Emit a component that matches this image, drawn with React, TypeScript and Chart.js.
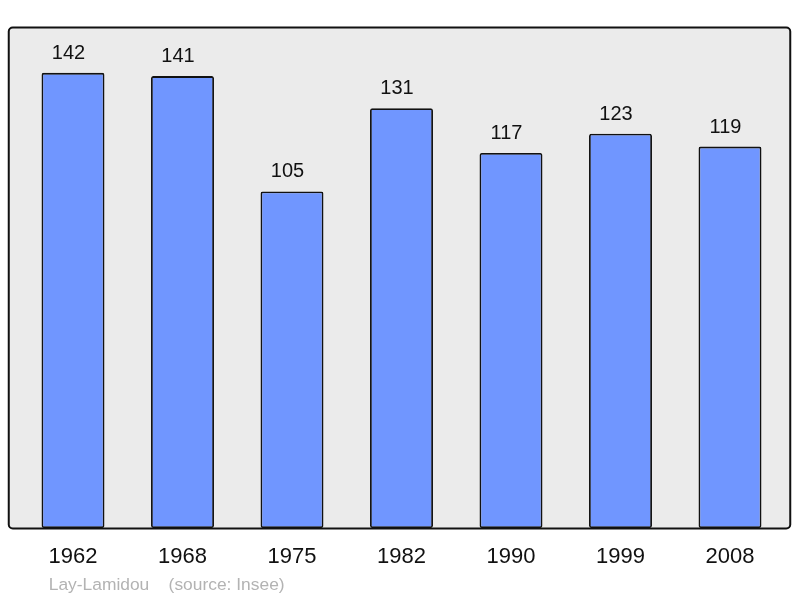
import React, { useEffect, useRef } from "react";
import { Chart, registerables } from "chart.js";

Chart.register(...registerables);

const categories: string[] = ["1962", "1968", "1975", "1982", "1990", "1999", "2008"];
const population: number[] = [142, 141, 105, 131, 117, 123, 119];
const sourceText = "Lay-Lamidou    (source: Insee)";

const FONT = "'Liberation Sans', Arial, sans-serif";

const decorPlugin = {
  id: "decor",
  beforeDraw(chart: any) {
    const { ctx, chartArea } = chart;
    const left = chartArea.left - 9.5;
    const right = chartArea.right + 5.5;
    const top = chartArea.top - 0.5;
    const bottom = chartArea.bottom + 0.5;
    ctx.save();
    ctx.beginPath();
    if (ctx.roundRect) ctx.roundRect(left, top, right - left, bottom - top, 4);
    else ctx.rect(left, top, right - left, bottom - top);
    ctx.fillStyle = "#ebebeb";
    ctx.fill();
    ctx.restore();
  },
  afterDatasetsDraw(chart: any) {
    const { ctx, chartArea } = chart;
    const left = chartArea.left - 9.5;
    const right = chartArea.right + 5.5;
    const top = chartArea.top - 0.5;
    const bottom = chartArea.bottom + 0.5;
    ctx.save();
    ctx.beginPath();
    if (ctx.roundRect) ctx.roundRect(left, top, right - left, bottom - top, 4);
    else ctx.rect(left, top, right - left, bottom - top);
    ctx.lineWidth = 2;
    ctx.strokeStyle = "#111";
    ctx.stroke();

    const meta = chart.getDatasetMeta(0);
    const xScale = chart.scales.x;
    ctx.fillStyle = "#111";
    ctx.textAlign = "center";
    ctx.textBaseline = "alphabetic";
    ctx.font = `20px ${FONT}`;
    meta.data.forEach((bar: any, i: number) => {
      ctx.fillText(String(population[i]), bar.x - 4.5, bar.y - 14);
    });
    ctx.font = `22px ${FONT}`;
    ctx.textBaseline = "middle";
    categories.forEach((c, i) => {
      ctx.fillText(c, xScale.getPixelForValue(i), chartArea.bottom + 29);
    });
    ctx.font = `17.4px ${FONT}`;
    ctx.fillStyle = "#b3b3b3";
    ctx.textAlign = "left";
    ctx.fillText(sourceText, chartArea.left + 30.5, chartArea.bottom + 57);
    ctx.restore();
  },
};

export default function App() {
  const ref = useRef<HTMLCanvasElement | null>(null);
  useEffect(() => {
    if (!ref.current) return;
    const chart = new Chart(ref.current, {
      type: "bar",
      data: {
        labels: categories,
        datasets: [
          {
            data: population,
            backgroundColor: "#7096ff",
            borderColor: "#111",
            borderWidth: 1.8,
            borderRadius: 2,
            borderSkipped: false,
            barPercentage: 0.575,
            categoryPercentage: 1,
          },
        ],
      },
      options: {
        animation: false,
        responsive: false,
        maintainAspectRatio: false,
        devicePixelRatio: 1,
        layout: { padding: { left: 18.25, right: 15.25, top: 28, bottom: 70 } },
        plugins: { legend: { display: false }, tooltip: { enabled: false } },
        scales: {
          x: { display: false, offset: true },
          y: { display: false, min: 0, max: 156 },
        },
      },
      plugins: [decorPlugin],
    });
    return () => chart.destroy();
  }, []);
  return (
    <div style={{ position: "absolute", left: 0, top: 0, width: 800, height: 598, background: "#fff" }}>
      <canvas ref={ref} width={800} height={598} style={{ width: 800, height: 598, display: "block" }} />
    </div>
  );
}
